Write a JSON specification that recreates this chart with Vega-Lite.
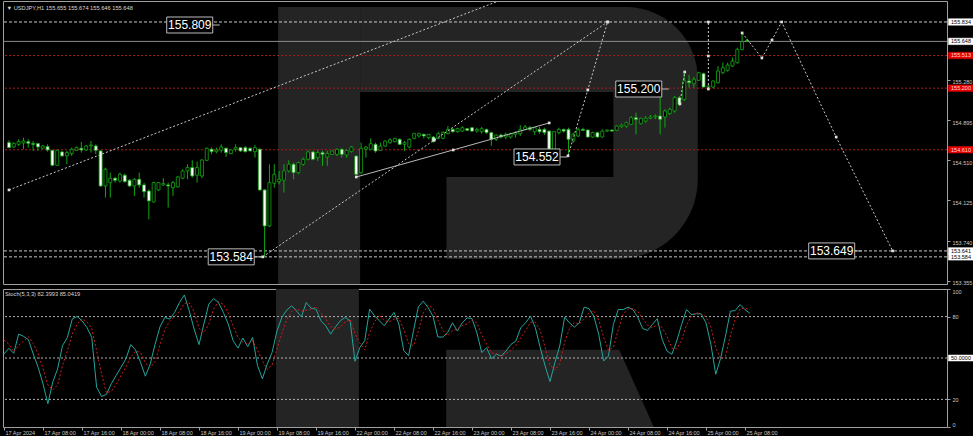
{
"$schema": "https://vega.github.io/schema/vega-lite/v6.json",
"background": "#000000",
"padding": {"left": 1, "top": 0, "right": 0, "bottom": 0},
"config": {
  "view": {"stroke": "#a0a0a0", "strokeWidth": 1},
  "concat": {"spacing": 1},
  "axis": {"labelFont": "Liberation Sans", "labelFontSize": 5.5, "labelColor": "#c8c8c8", "tickColor": "#a0a0a0", "tickSize": 3, "domain": false, "grid": false}
},
"datasets": {
  "bars": [
{"i":0,"o":154.678,"h":154.701,"l":154.624,"c":154.631,"k":52.9,"d":63.0},
{"i":1,"o":154.637,"h":154.682,"l":154.630,"c":154.672,"k":57.0,"d":60.0},
{"i":2,"o":154.662,"h":154.710,"l":154.646,"c":154.688,"k":53.4,"d":54.4},
{"i":3,"o":154.675,"h":154.726,"l":154.615,"c":154.694,"k":67.3,"d":59.2},
{"i":4,"o":154.688,"h":154.710,"l":154.631,"c":154.672,"k":65.7,"d":62.1},
{"i":5,"o":154.669,"h":154.694,"l":154.599,"c":154.662,"k":63.3,"d":65.4},
{"i":6,"o":154.669,"h":154.675,"l":154.599,"c":154.637,"k":52.9,"d":60.6},
{"i":7,"o":154.624,"h":154.656,"l":154.615,"c":154.646,"k":43.3,"d":53.2},
{"i":8,"o":154.640,"h":154.662,"l":154.592,"c":154.608,"k":31.3,"d":42.5},
{"i":9,"o":154.605,"h":154.608,"l":154.455,"c":154.461,"k":16.9,"d":30.5},
{"i":10,"o":154.461,"h":154.612,"l":154.455,"c":154.605,"k":32.5,"d":26.9},
{"i":11,"o":154.589,"h":154.599,"l":154.541,"c":154.551,"k":42.1,"d":30.5},
{"i":12,"o":154.551,"h":154.599,"l":154.471,"c":154.583,"k":58.9,"d":44.5},
{"i":13,"o":154.573,"h":154.631,"l":154.551,"c":154.615,"k":64.9,"d":55.3},
{"i":14,"o":154.605,"h":154.640,"l":154.599,"c":154.631,"k":78.2,"d":67.3},
{"i":15,"o":154.624,"h":154.685,"l":154.583,"c":154.608,"k":80.1,"d":74.4},
{"i":16,"o":154.608,"h":154.656,"l":154.599,"c":154.646,"k":77.0,"d":78.4},
{"i":17,"o":154.646,"h":154.694,"l":154.583,"c":154.656,"k":72.2,"d":76.4},
{"i":18,"o":154.646,"h":154.662,"l":154.567,"c":154.605,"k":64.9,"d":71.4},
{"i":19,"o":154.599,"h":154.605,"l":154.255,"c":154.263,"k":28.9,"d":55.3},
{"i":20,"o":154.263,"h":154.439,"l":154.152,"c":154.423,"k":22.1,"d":38.6},
{"i":21,"o":154.295,"h":154.391,"l":154.152,"c":154.337,"k":23.6,"d":24.9},
{"i":22,"o":154.337,"h":154.350,"l":154.295,"c":154.318,"k":31.3,"d":25.7},
{"i":23,"o":154.311,"h":154.391,"l":154.295,"c":154.375,"k":37.3,"d":30.7},
{"i":24,"o":154.366,"h":154.381,"l":154.295,"c":154.305,"k":43.3,"d":37.3},
{"i":25,"o":154.318,"h":154.327,"l":154.254,"c":154.263,"k":49.3,"d":43.3},
{"i":26,"o":154.263,"h":154.337,"l":154.168,"c":154.327,"k":59.7,"d":50.8},
{"i":27,"o":154.327,"h":154.391,"l":154.247,"c":154.273,"k":55.8,"d":54.9},
{"i":28,"o":154.273,"h":154.295,"l":154.152,"c":154.209,"k":46.9,"d":54.1},
{"i":29,"o":154.215,"h":154.231,"l":153.944,"c":154.120,"k":36.8,"d":46.5},
{"i":30,"o":154.110,"h":154.305,"l":154.104,"c":154.295,"k":45.7,"d":43.1},
{"i":31,"o":154.225,"h":154.300,"l":154.215,"c":154.295,"k":60.1,"d":47.5},
{"i":32,"o":154.273,"h":154.337,"l":154.263,"c":154.286,"k":72.6,"d":59.5},
{"i":33,"o":154.273,"h":154.295,"l":154.056,"c":154.263,"k":79.4,"d":70.7},
{"i":34,"o":154.247,"h":154.311,"l":154.168,"c":154.295,"k":78.2,"d":76.7},
{"i":35,"o":154.254,"h":154.359,"l":154.247,"c":154.350,"k":83.0,"d":80.2},
{"i":36,"o":154.337,"h":154.423,"l":154.327,"c":154.407,"k":90.2,"d":83.8},
{"i":37,"o":154.407,"h":154.471,"l":154.327,"c":154.439,"k":95.7,"d":89.6},
{"i":38,"o":154.439,"h":154.509,"l":154.343,"c":154.359,"k":84.2,"d":90.0},
{"i":39,"o":154.366,"h":154.496,"l":154.295,"c":154.439,"k":71.0,"d":83.6},
{"i":40,"o":154.359,"h":154.519,"l":154.337,"c":154.512,"k":59.7,"d":71.6},
{"i":41,"o":154.509,"h":154.631,"l":154.503,"c":154.624,"k":74.6,"d":68.4},
{"i":42,"o":154.615,"h":154.631,"l":154.567,"c":154.592,"k":89.0,"d":74.4},
{"i":43,"o":154.592,"h":154.631,"l":154.576,"c":154.608,"k":93.1,"d":85.6},
{"i":44,"o":154.605,"h":154.662,"l":154.583,"c":154.637,"k":90.2,"d":90.8},
{"i":45,"o":154.624,"h":154.631,"l":154.541,"c":154.583,"k":83.0,"d":88.8},
{"i":46,"o":154.573,"h":154.615,"l":154.567,"c":154.608,"k":74.6,"d":82.6},
{"i":47,"o":154.615,"h":154.662,"l":154.592,"c":154.631,"k":62.5,"d":73.4},
{"i":48,"o":154.631,"h":154.634,"l":154.589,"c":154.599,"k":57.2,"d":64.8},
{"i":49,"o":154.631,"h":154.646,"l":154.583,"c":154.592,"k":64.5,"d":61.4},
{"i":50,"o":154.624,"h":154.631,"l":154.592,"c":154.599,"k":58.2,"d":60.0},
{"i":51,"o":154.592,"h":154.656,"l":154.535,"c":154.631,"k":64.9,"d":62.5},
{"i":52,"o":154.615,"h":154.624,"l":154.215,"c":154.225,"k":44.5,"d":55.9},
{"i":53,"o":154.225,"h":154.231,"l":153.584,"c":153.880,"k":34.9,"d":48.1},
{"i":54,"o":153.880,"h":154.471,"l":153.870,"c":154.295,"k":45.7,"d":41.7},
{"i":55,"o":154.289,"h":154.471,"l":154.247,"c":154.375,"k":54.1,"d":44.9},
{"i":56,"o":154.305,"h":154.407,"l":154.279,"c":154.327,"k":69.7,"d":56.5},
{"i":57,"o":154.318,"h":154.471,"l":154.200,"c":154.407,"k":79.4,"d":67.7},
{"i":58,"o":154.407,"h":154.509,"l":154.391,"c":154.471,"k":84.7,"d":77.9},
{"i":59,"o":154.471,"h":154.487,"l":154.327,"c":154.391,"k":87.8,"d":84.0},
{"i":60,"o":154.391,"h":154.496,"l":154.375,"c":154.487,"k":84.2,"d":85.6},
{"i":61,"o":154.471,"h":154.535,"l":154.455,"c":154.519,"k":79.8,"d":83.9},
{"i":62,"o":154.519,"h":154.605,"l":154.509,"c":154.589,"k":90.2,"d":84.7},
{"i":63,"o":154.589,"h":154.599,"l":154.509,"c":154.519,"k":86.1,"d":85.4},
{"i":64,"o":154.535,"h":154.605,"l":154.503,"c":154.583,"k":85.4,"d":87.2},
{"i":65,"o":154.583,"h":154.599,"l":154.455,"c":154.567,"k":77.0,"d":82.8},
{"i":66,"o":154.540,"h":154.600,"l":154.455,"c":154.575,"k":73.4,"d":78.6},
{"i":67,"o":154.566,"h":154.605,"l":154.560,"c":154.598,"k":67.3,"d":72.6},
{"i":68,"o":154.566,"h":154.623,"l":154.550,"c":154.614,"k":72.6,"d":71.1},
{"i":69,"o":154.614,"h":154.623,"l":154.534,"c":154.566,"k":77.0,"d":72.3},
{"i":70,"o":154.560,"h":154.614,"l":154.534,"c":154.604,"k":79.4,"d":76.3},
{"i":71,"o":154.592,"h":154.646,"l":154.582,"c":154.636,"k":77.0,"d":77.8},
{"i":72,"o":154.550,"h":154.556,"l":154.370,"c":154.374,"k":47.6,"d":68.0},
{"i":73,"o":154.390,"h":154.678,"l":154.374,"c":154.623,"k":57.7,"d":60.8},
{"i":74,"o":154.614,"h":154.646,"l":154.534,"c":154.636,"k":62.5,"d":55.9},
{"i":75,"o":154.614,"h":154.719,"l":154.604,"c":154.668,"k":85.4,"d":68.5},
{"i":76,"o":154.662,"h":154.678,"l":154.582,"c":154.598,"k":80.6,"d":76.2},
{"i":77,"o":154.604,"h":154.678,"l":154.598,"c":154.646,"k":77.0,"d":81.0},
{"i":78,"o":154.646,"h":154.700,"l":154.636,"c":154.694,"k":73.4,"d":77.0},
{"i":79,"o":154.678,"h":154.719,"l":154.668,"c":154.706,"k":78.2,"d":76.2},
{"i":80,"o":154.687,"h":154.726,"l":154.678,"c":154.719,"k":83.0,"d":78.2},
{"i":81,"o":154.710,"h":154.719,"l":154.655,"c":154.662,"k":74.6,"d":78.6},
{"i":82,"o":154.662,"h":154.694,"l":154.598,"c":154.678,"k":55.3,"d":71.0},
{"i":83,"o":154.636,"h":154.719,"l":154.623,"c":154.710,"k":51.7,"d":60.5},
{"i":84,"o":154.719,"h":154.774,"l":154.710,"c":154.764,"k":69.7,"d":58.9},
{"i":85,"o":154.742,"h":154.774,"l":154.726,"c":154.764,"k":87.1,"d":69.5},
{"i":86,"o":154.758,"h":154.764,"l":154.719,"c":154.742,"k":91.2,"d":82.7},
{"i":87,"o":154.726,"h":154.760,"l":154.710,"c":154.758,"k":86.5,"d":88.3},
{"i":88,"o":154.732,"h":154.742,"l":154.678,"c":154.687,"k":80.3,"d":86.0},
{"i":89,"o":154.719,"h":154.783,"l":154.710,"c":154.764,"k":65.2,"d":77.3},
{"i":90,"o":154.719,"h":154.789,"l":154.710,"c":154.774,"k":65.2,"d":70.2},
{"i":91,"o":154.764,"h":154.837,"l":154.758,"c":154.805,"k":68.3,"d":66.2},
{"i":92,"o":154.805,"h":154.821,"l":154.774,"c":154.783,"k":75.5,"d":69.7},
{"i":93,"o":154.783,"h":154.821,"l":154.774,"c":154.812,"k":69.5,"d":71.1},
{"i":94,"o":154.789,"h":154.834,"l":154.783,"c":154.821,"k":75.5,"d":73.5},
{"i":95,"o":154.812,"h":154.818,"l":154.790,"c":154.796,"k":79.1,"d":74.7},
{"i":96,"o":154.821,"h":154.828,"l":154.783,"c":154.789,"k":78.6,"d":77.7},
{"i":97,"o":154.789,"h":154.821,"l":154.774,"c":154.805,"k":68.3,"d":75.3},
{"i":98,"o":154.783,"h":154.828,"l":154.764,"c":154.812,"k":53.9,"d":66.9},
{"i":99,"o":154.805,"h":154.812,"l":154.764,"c":154.774,"k":57.5,"d":59.9},
{"i":100,"o":154.774,"h":154.783,"l":154.646,"c":154.710,"k":49.5,"d":53.6},
{"i":101,"o":154.710,"h":154.758,"l":154.694,"c":154.751,"k":52.7,"d":53.2},
{"i":102,"o":154.751,"h":154.764,"l":154.719,"c":154.732,"k":51.5,"d":51.2},
{"i":103,"o":154.732,"h":154.774,"l":154.710,"c":154.758,"k":55.1,"d":53.1},
{"i":104,"o":154.732,"h":154.774,"l":154.719,"c":154.764,"k":59.9,"d":55.5},
{"i":105,"o":154.758,"h":154.789,"l":154.726,"c":154.774,"k":62.3,"d":59.1},
{"i":106,"o":154.764,"h":154.847,"l":154.742,"c":154.805,"k":71.9,"d":64.7},
{"i":107,"o":154.805,"h":154.847,"l":154.796,"c":154.828,"k":75.5,"d":69.9},
{"i":108,"o":154.821,"h":154.837,"l":154.789,"c":154.805,"k":80.3,"d":75.9},
{"i":109,"o":154.783,"h":154.828,"l":154.751,"c":154.821,"k":71.9,"d":75.9},
{"i":110,"o":154.805,"h":154.828,"l":154.764,"c":154.783,"k":57.5,"d":69.9},
{"i":111,"o":154.805,"h":154.821,"l":154.751,"c":154.774,"k":44.2,"d":57.9},
{"i":112,"o":154.789,"h":154.796,"l":154.610,"c":154.614,"k":32.9,"d":44.9},
{"i":113,"o":154.614,"h":154.789,"l":154.604,"c":154.783,"k":46.6,"d":41.2},
{"i":114,"o":154.774,"h":154.821,"l":154.758,"c":154.805,"k":58.7,"d":46.1},
{"i":115,"o":154.805,"h":154.812,"l":154.774,"c":154.789,"k":79.6,"d":61.6},
{"i":116,"o":154.805,"h":154.821,"l":154.552,"c":154.710,"k":75.5,"d":71.3},
{"i":117,"o":154.694,"h":154.774,"l":154.678,"c":154.758,"k":72.4,"d":75.8},
{"i":118,"o":154.742,"h":154.821,"l":154.732,"c":154.805,"k":75.5,"d":74.5},
{"i":119,"o":154.805,"h":154.821,"l":154.789,"c":154.796,"k":86.8,"d":78.2},
{"i":120,"o":154.799,"h":154.805,"l":154.726,"c":154.732,"k":85.8,"d":82.7},
{"i":121,"o":154.732,"h":154.783,"l":154.726,"c":154.774,"k":80.3,"d":84.3},
{"i":122,"o":154.774,"h":154.783,"l":154.726,"c":154.732,"k":67.1,"d":77.7},
{"i":123,"o":154.732,"h":154.805,"l":154.726,"c":154.789,"k":47.8,"d":65.1},
{"i":124,"o":154.789,"h":154.805,"l":154.780,"c":154.799,"k":51.5,"d":55.5},
{"i":125,"o":154.799,"h":154.805,"l":154.783,"c":154.789,"k":74.3,"d":57.9},
{"i":126,"o":154.796,"h":154.844,"l":154.789,"c":154.837,"k":85.1,"d":70.3},
{"i":127,"o":154.831,"h":154.860,"l":154.821,"c":154.847,"k":85.1,"d":81.5},
{"i":128,"o":154.837,"h":154.879,"l":154.821,"c":154.869,"k":86.8,"d":85.7},
{"i":129,"o":154.853,"h":154.933,"l":154.847,"c":154.917,"k":85.1,"d":85.7},
{"i":130,"o":154.917,"h":154.965,"l":154.758,"c":154.901,"k":79.6,"d":83.8},
{"i":131,"o":154.860,"h":154.917,"l":154.853,"c":154.911,"k":71.4,"d":78.7},
{"i":132,"o":154.885,"h":154.933,"l":154.869,"c":154.911,"k":70.0,"d":73.7},
{"i":133,"o":154.911,"h":154.943,"l":154.902,"c":154.924,"k":74.3,"d":71.9},
{"i":134,"o":154.924,"h":154.949,"l":154.902,"c":154.933,"k":78.4,"d":74.2},
{"i":135,"o":154.933,"h":155.173,"l":154.758,"c":154.902,"k":63.5,"d":72.1},
{"i":136,"o":154.924,"h":154.997,"l":154.822,"c":154.981,"k":55.1,"d":65.7},
{"i":137,"o":154.956,"h":155.013,"l":154.943,"c":154.997,"k":52.7,"d":57.1},
{"i":138,"o":154.981,"h":155.125,"l":154.965,"c":155.109,"k":62.3,"d":56.7},
{"i":139,"o":155.109,"h":155.125,"l":155.030,"c":155.045,"k":74.3,"d":63.1},
{"i":140,"o":155.093,"h":155.348,"l":155.077,"c":155.269,"k":85.1,"d":73.9},
{"i":141,"o":155.269,"h":155.326,"l":155.205,"c":155.253,"k":81.5,"d":80.3},
{"i":142,"o":155.243,"h":155.307,"l":155.205,"c":155.285,"k":82.0,"d":82.9},
{"i":143,"o":155.275,"h":155.358,"l":155.269,"c":155.348,"k":82.0,"d":81.8},
{"i":144,"o":155.339,"h":155.348,"l":155.205,"c":155.211,"k":75.5,"d":79.8},
{"i":145,"o":155.211,"h":155.230,"l":155.198,"c":155.221,"k":59.9,"d":72.5},
{"i":146,"o":155.211,"h":155.275,"l":155.198,"c":155.269,"k":38.2,"d":57.9},
{"i":147,"o":155.253,"h":155.412,"l":155.243,"c":155.364,"k":49.8,"d":49.3},
{"i":148,"o":155.348,"h":155.444,"l":155.333,"c":155.396,"k":65.9,"d":51.3},
{"i":149,"o":155.371,"h":155.444,"l":155.358,"c":155.422,"k":83.9,"d":66.5},
{"i":150,"o":155.412,"h":155.492,"l":155.403,"c":155.460,"k":84.4,"d":78.1},
{"i":151,"o":155.444,"h":155.588,"l":155.435,"c":155.572,"k":88.7,"d":85.7},
{"i":152,"o":155.572,"h":155.732,"l":155.562,"c":155.645,"k":85.1,"d":86.1},
{"i":153,"o":155.655,"h":155.674,"l":155.646,"c":155.648,"k":82.4,"d":85.04}
  ],
  "levels": [
    {"p":155.834,"kind":"level","t":"155.834"},
    {"p":155.648,"kind":"bid","t":"155.648"},
    {"p":155.513,"kind":"alert","t":"155.513"},
    {"p":155.200,"kind":"alert","t":"155.200"},
    {"p":154.610,"kind":"alert","t":"154.610"},
    {"p":153.641,"kind":"level","t":"153.641"},
    {"p":153.584,"kind":"level","t":"153.584"}
  ],
  "lines": [
    {"id":"a","n":0,"i":0,"p":154.225},
    {"id":"a","n":1,"i":101.5,"p":156.035},
    {"id":"b","n":0,"i":52.6,"p":153.584},
    {"id":"b","n":1,"i":88.2,"p":154.704},
    {"id":"b","n":2,"i":124.1,"p":155.834},
    {"id":"c","n":0,"i":115.9,"p":154.552},
    {"id":"c","n":1,"i":120.0,"p":155.183},
    {"id":"c","n":2,"i":124.1,"p":155.834},
    {"id":"d","n":0,"i":72.0,"p":154.349},
    {"id":"d","n":1,"i":92.1,"p":154.608},
    {"id":"d","n":2,"i":112.0,"p":154.867},
    {"id":"e","n":0,"i":145.0,"p":155.192},
    {"id":"e","n":1,"i":145.0,"p":155.508},
    {"id":"e","n":2,"i":145.0,"p":155.834},
    {"id":"f","n":0,"i":139.1,"p":155.049},
    {"id":"f","n":1,"i":140.1,"p":155.355},
    {"id":"g","n":0,"i":152.0,"p":155.729},
    {"id":"g","n":1,"i":156.1,"p":155.489},
    {"id":"g","n":2,"i":158.2,"p":155.662},
    {"id":"g","n":3,"i":160.2,"p":155.834},
    {"id":"g","n":4,"i":171.5,"p":154.732},
    {"id":"g","n":5,"i":183.2,"p":153.641}
  ],
  "tags": [
    {"i":43.9,"p":155.805,"t":"155.809"},
    {"i":52.5,"p":153.584,"t":"153.584"},
    {"i":115.9,"p":154.541,"t":"154.552"},
    {"i":137.0,"p":155.192,"t":"155.200"},
    {"i":177.0,"p":153.641,"t":"153.649"}
  ],
  "wm": [
    {"part":"stem","i":55.8,"i2":72.8,"p":155.978,"p2":153.0},
    {"part":"bowl","i":72.8,"i2":142.8,"p":155.978,"p2":153.564},
    {"part":"hole","i":72.8,"i2":125.3,"p":155.164,"p2":154.349},
    {"part":"hole","i":72.8,"i2":90.7,"p":154.349,"p2":153.564}
  ],
  "wmStoch": [
    {"i":55.8,"i2":72.8,"v":0,"v2":110}
  ],
  "wmLeg": [
    {"i":90.7,"v":56},
    {"i":126.2,"v":56},
    {"i":133.3,"v":0}
  ],
  "stochLv": [
    {"v":80},{"v":50},{"v":20}
  ]
},
"vconcat": [
  {
    "width": 944,
    "height": 283,
    "title": {"text": "▼ USDJPY,H1  155.655 155.674 155.646 155.648", "anchor": "start", "offset": -10, "fontSize": 5.7, "font": "Liberation Sans", "fontWeight": "normal", "color": "#d8d8d8", "dx": 4},
    "layer": [
      {
        "data": {"name": "wm"},
        "transform": [{"filter": "datum.part == 'stem'"}],
        "mark": {"type": "rect", "fill": "#242424", "clip": true},
        "encoding": {
          "x": {"field": "i", "type": "quantitative", "scale": {"domain": [-0.205, 193.44], "nice": false, "zero": false}, "axis": null},
          "x2": {"field": "i2"},
          "y": {"field": "p", "type": "quantitative", "scale": {"domain": [153.324, 156.035], "nice": false, "zero": false},
                "axis": {"orient": "right", "title": null, "values": [155.475, 155.280, 155.090, 154.895, 154.705, 154.510, 154.320, 154.125, 153.930, 153.740, 153.545, 153.355], "format": ".3f", "labelBaseline": "middle", "labelOffset": 2, "labelPadding": 2, "labelFlush": false, "labelOverlap": false}},
          "y2": {"field": "p2"}
        }
      },
      {
        "data": {"name": "wm"},
        "transform": [{"filter": "datum.part == 'bowl'"}],
        "mark": {"type": "rect", "fill": "#242424", "clip": true, "cornerRadiusTopRight": 72, "cornerRadiusBottomRight": 80},
        "encoding": {
          "x": {"field": "i", "type": "quantitative", "scale": {"domain": [-0.205, 193.44], "nice": false, "zero": false}, "axis": null},
          "x2": {"field": "i2"},
          "y": {"field": "p", "type": "quantitative", "scale": {"domain": [153.324, 156.035], "nice": false, "zero": false}},
          "y2": {"field": "p2"}
        }
      },
      {
        "data": {"name": "wm"},
        "transform": [{"filter": "datum.part == 'hole'"}],
        "mark": {"type": "rect", "fill": "#000000", "clip": true},
        "encoding": {
          "x": {"field": "i", "type": "quantitative", "scale": {"domain": [-0.205, 193.44], "nice": false, "zero": false}, "axis": null},
          "x2": {"field": "i2"},
          "y": {"field": "p", "type": "quantitative", "scale": {"domain": [153.324, 156.035], "nice": false, "zero": false}},
          "y2": {"field": "p2"}
        }
      },
      {
        "data": {"name": "levels"},
        "transform": [{"filter": "datum.kind == 'level'"}],
        "mark": {"type": "rule", "color": "#c8c8c8", "strokeWidth": 1, "strokeDash": [3, 2]},
        "encoding": {
          "y": {"field": "p", "type": "quantitative", "scale": {"domain": [153.324, 156.035], "nice": false, "zero": false}}
        }
      },
      {
        "data": {"name": "levels"},
        "transform": [{"filter": "datum.kind == 'bid'"}],
        "mark": {"type": "rule", "color": "#8a8a8a", "strokeWidth": 1},
        "encoding": {
          "y": {"field": "p", "type": "quantitative", "scale": {"domain": [153.324, 156.035], "nice": false, "zero": false}}
        }
      },
      {
        "data": {"name": "levels"},
        "transform": [{"filter": "datum.kind == 'alert'"}],
        "mark": {"type": "rule", "color": "#a81a1a", "strokeWidth": 1, "strokeDash": [2, 2]},
        "encoding": {
          "y": {"field": "p", "type": "quantitative", "scale": {"domain": [153.324, 156.035], "nice": false, "zero": false}}
        }
      },
      {
        "data": {"name": "bars"},
        "mark": {"type": "rule", "color": "#12a812", "strokeWidth": 1},
        "encoding": {
          "x": {"field": "i", "type": "quantitative", "scale": {"domain": [-0.205, 193.44], "nice": false, "zero": false}, "axis": null},
          "y": {"field": "l", "type": "quantitative", "scale": {"domain": [153.324, 156.035], "nice": false, "zero": false}},
          "y2": {"field": "h"}
        }
      },
      {
        "data": {"name": "bars"},
        "mark": {"type": "bar", "size": 3, "stroke": "#12a812", "strokeWidth": 0.8},
        "encoding": {
          "x": {"field": "i", "type": "quantitative", "scale": {"domain": [-0.205, 193.44], "nice": false, "zero": false}, "axis": null},
          "y": {"field": "o", "type": "quantitative", "scale": {"domain": [153.324, 156.035], "nice": false, "zero": false}},
          "y2": {"field": "c"},
          "fill": {"condition": {"test": "datum.c >= datum.o", "value": "#000000"}, "value": "#ffffff"}
        }
      },
      {
        "data": {"name": "lines"},
        "transform": [{"filter": "datum.id != 'd'"}],
        "mark": {"type": "line", "color": "#c8c8c8", "strokeWidth": 1, "strokeDash": [2, 2], "clip": true},
        "encoding": {
          "x": {"field": "i", "type": "quantitative", "scale": {"domain": [-0.205, 193.44], "nice": false, "zero": false}, "axis": null},
          "y": {"field": "p", "type": "quantitative", "scale": {"domain": [153.324, 156.035], "nice": false, "zero": false}},
          "detail": {"field": "id"},
          "order": {"field": "n"}
        }
      },
      {
        "data": {"name": "lines"},
        "transform": [{"filter": "datum.id == 'd'"}],
        "mark": {"type": "line", "color": "#b8b8b8", "strokeWidth": 1},
        "encoding": {
          "x": {"field": "i", "type": "quantitative", "scale": {"domain": [-0.205, 193.44], "nice": false, "zero": false}, "axis": null},
          "y": {"field": "p", "type": "quantitative", "scale": {"domain": [153.324, 156.035], "nice": false, "zero": false}},
          "order": {"field": "n"}
        }
      },
      {
        "data": {"name": "lines"},
        "transform": [{"filter": "!(datum.id == 'a' && datum.n == 1)"}],
        "mark": {"type": "point", "shape": "square", "size": 7, "filled": true, "color": "#e0e0e0", "opacity": 1},
        "encoding": {
          "x": {"field": "i", "type": "quantitative", "scale": {"domain": [-0.205, 193.44], "nice": false, "zero": false}, "axis": null},
          "y": {"field": "p", "type": "quantitative", "scale": {"domain": [153.324, 156.035], "nice": false, "zero": false}}
        }
      },
      {
        "data": {"name": "tags"},
        "mark": {"type": "point", "shape": "M-5.4,-0.8H-0.8V0.8H-5.4Z M-0.8,0H-0.1", "size": 400, "fill": "#000000", "filled": true, "stroke": "#bcbcbc", "strokeWidth": 1, "opacity": 1},
        "encoding": {
          "x": {"field": "i", "type": "quantitative", "scale": {"domain": [-0.205, 193.44], "nice": false, "zero": false}, "axis": null},
          "y": {"field": "p", "type": "quantitative", "scale": {"domain": [153.324, 156.035], "nice": false, "zero": false}}
        }
      },
      {
        "data": {"name": "tags"},
        "mark": {"type": "text", "dx": -31, "align": "center", "baseline": "middle", "font": "Liberation Sans", "fontSize": 12, "color": "#ffffff"},
        "encoding": {
          "x": {"field": "i", "type": "quantitative", "scale": {"domain": [-0.205, 193.44], "nice": false, "zero": false}, "axis": null},
          "y": {"field": "p", "type": "quantitative", "scale": {"domain": [153.324, 156.035], "nice": false, "zero": false}},
          "text": {"field": "t"}
        }
      },
      {
        "data": {"name": "levels"},
        "transform": [{"filter": "datum.kind != 'alert'"}],
        "mark": {"type": "point", "shape": "M0.3,-0.65H5.3V0.65H0.3Z", "size": 100, "filled": true, "fill": "#ffffff", "stroke": "#ffffff", "strokeWidth": 0.5, "opacity": 1, "clip": false},
        "encoding": {
          "x": {"value": "width"},
          "y": {"field": "p", "type": "quantitative", "scale": {"domain": [153.324, 156.035], "nice": false, "zero": false}}
        }
      },
      {
        "data": {"name": "levels"},
        "transform": [{"filter": "datum.kind == 'alert'"}],
        "mark": {"type": "point", "shape": "M0.3,-0.65H5.3V0.65H0.3Z", "size": 100, "filled": true, "fill": "#e80000", "stroke": "#e80000", "strokeWidth": 0.5, "opacity": 1, "clip": false},
        "encoding": {
          "x": {"value": "width"},
          "y": {"field": "p", "type": "quantitative", "scale": {"domain": [153.324, 156.035], "nice": false, "zero": false}}
        }
      },
      {
        "data": {"name": "levels"},
        "mark": {"type": "text", "dx": 14, "align": "center", "baseline": "middle", "font": "Liberation Sans", "fontSize": 5.5},
        "encoding": {
          "x": {"value": "width"},
          "y": {"field": "p", "type": "quantitative", "scale": {"domain": [153.324, 156.035], "nice": false, "zero": false}},
          "text": {"field": "t"},
          "color": {"condition": {"test": "datum.kind == 'alert'", "value": "#ffd8d8"}, "value": "#000000"}
        }
      }
    ]
  },
  {
    "width": 944,
    "height": 138,
    "title": {"text": "Stoch(5,3,3) 82.3993 85.0419", "anchor": "start", "offset": -8, "fontSize": 5.7, "font": "Liberation Sans", "fontWeight": "normal", "color": "#d8d8d8", "dx": 3},
    "layer": [
      {
        "data": {"name": "wmStoch"},
        "mark": {"type": "rect", "fill": "#242424", "clip": true},
        "encoding": {
          "x": {"field": "i", "type": "quantitative", "scale": {"domain": [-0.205, 193.44], "nice": false, "zero": false},
                "axis": {"title": null, "values": [0,8,16,24,32,40,48,56,64,72,80,88,96,104,112,120,128,136,144,152], "labelAlign": "left", "labelOffset": 1, "labelPadding": 0, "labelFlush": false, "labelOverlap": false,
                         "labelExpr": "['17 Apr 2024','17 Apr 08:00','17 Apr 16:00','18 Apr 00:00','18 Apr 08:00','18 Apr 16:00','19 Apr 00:00','19 Apr 08:00','19 Apr 16:00','22 Apr 00:00','22 Apr 08:00','22 Apr 16:00','23 Apr 00:00','23 Apr 08:00','23 Apr 16:00','24 Apr 00:00','24 Apr 08:00','24 Apr 16:00','25 Apr 00:00','25 Apr 08:00'][round(datum.value / 8)]"}},
          "x2": {"field": "i2"},
          "y": {"field": "v", "type": "quantitative", "scale": {"domain": [0, 100], "nice": false, "zero": false},
                "axis": {"orient": "right", "title": null, "values": [0, 20, 80, 100], "labelFlush": true, "labelPadding": 2, "labelOverlap": false}},
          "y2": {"field": "v2"}
        }
      },
      {
        "data": {"name": "wmLeg"},
        "mark": {"type": "area", "fill": "#242424", "clip": true},
        "encoding": {
          "x": {"field": "i", "type": "quantitative", "scale": {"domain": [-0.205, 193.44], "nice": false, "zero": false}},
          "y": {"field": "v", "type": "quantitative", "scale": {"domain": [0, 100], "nice": false, "zero": false}},
          "y2": {"datum": 0}
        }
      },
      {
        "data": {"name": "stochLv"},
        "mark": {"type": "rule", "color": "#b0b0b0", "strokeWidth": 1, "strokeDash": [2, 2]},
        "encoding": {
          "y": {"field": "v", "type": "quantitative", "scale": {"domain": [0, 100], "nice": false, "zero": false}}
        }
      },
      {
        "data": {"name": "bars"},
        "mark": {"type": "line", "color": "#22a59c", "strokeWidth": 1},
        "encoding": {
          "x": {"field": "i", "type": "quantitative", "scale": {"domain": [-0.205, 193.44], "nice": false, "zero": false}},
          "y": {"field": "k", "type": "quantitative", "scale": {"domain": [0, 100], "nice": false, "zero": false}}
        }
      },
      {
        "data": {"name": "bars"},
        "mark": {"type": "line", "color": "#d01e1e", "strokeWidth": 1, "strokeDash": [2, 2]},
        "encoding": {
          "x": {"field": "i", "type": "quantitative", "scale": {"domain": [-0.205, 193.44], "nice": false, "zero": false}},
          "y": {"field": "d", "type": "quantitative", "scale": {"domain": [0, 100], "nice": false, "zero": false}}
        }
      },
      {
        "data": {"name": "stochLv"},
        "transform": [{"filter": "datum.v == 50"}],
        "mark": {"type": "point", "shape": "M0.3,-0.6H5.3V0.6H0.3Z", "size": 100, "filled": true, "fill": "#ffffff", "stroke": "#ffffff", "strokeWidth": 0.5, "opacity": 1, "clip": false},
        "encoding": {
          "x": {"value": "width"},
          "y": {"field": "v", "type": "quantitative", "scale": {"domain": [0, 100], "nice": false, "zero": false}}
        }
      },
      {
        "data": {"name": "stochLv"},
        "transform": [{"filter": "datum.v == 50"}],
        "mark": {"type": "text", "dx": 14, "align": "center", "baseline": "middle", "font": "Liberation Sans", "fontSize": 5.5, "color": "#000000", "text": "50.0000"},
        "encoding": {
          "x": {"value": "width"},
          "y": {"field": "v", "type": "quantitative", "scale": {"domain": [0, 100], "nice": false, "zero": false}}
        }
      }
    ]
  }
]
}
